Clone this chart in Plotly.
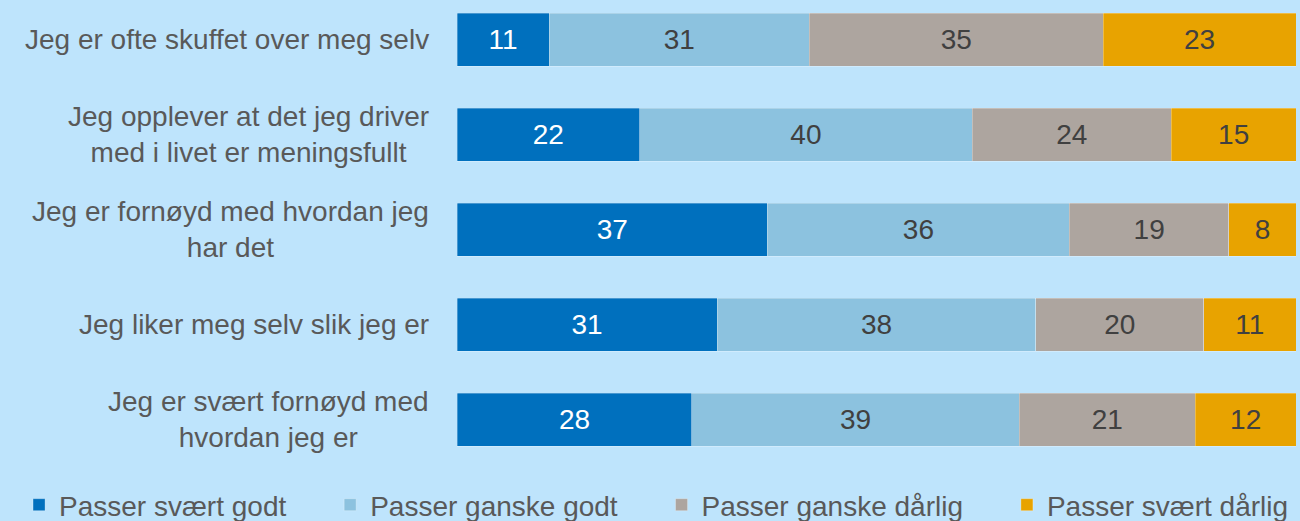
import plotly.graph_objects as go

# Survey statements (top to bottom) and answer shares per response option
categories = [
    "Jeg er ofte skuffet over meg selv",
    "Jeg opplever at det jeg driver<br>med i livet er meningsfullt",
    "Jeg er fornøyd med hvordan jeg<br>har det",
    "Jeg liker meg selv slik jeg er",
    "Jeg er svært fornøyd med<br>hvordan jeg er",
]
series_names = [
    "Passer svært godt",
    "Passer ganske godt",
    "Passer ganske dårlig",
    "Passer svært dårlig",
]
svaert_godt = [11, 22, 37, 31, 28]
ganske_godt = [31, 40, 36, 38, 39]
ganske_darlig = [35, 24, 19, 20, 21]
svaert_darlig = [23, 15, 8, 11, 12]

series_values = [svaert_godt, ganske_godt, ganske_darlig, svaert_darlig]
colors = ["#0070BE", "#8CC2DF", "#ADA59F", "#E8A300"]
label_colors = ["#FFFFFF", "#404040", "#404040", "#404040"]

bg = "#BEE4FC"
text_grey = "#595959"
font_family = "Liberation Sans, Arial, sans-serif"

# extra horizontal room after each legend entry except the last
legend_pad = "\u00a0" * 5

fig = go.Figure()
for i, (name, vals, col, lcol) in enumerate(zip(series_names, series_values, colors, label_colors)):
    shown_name = name + (legend_pad if i < len(series_names) - 1 else "")
    fig.add_trace(
        go.Bar(
            name=shown_name,
            y=categories,
            x=vals,
            orientation="h",
            marker=dict(color=col, line=dict(color="rgba(255,255,255,0.35)", width=0.8)),
            text=vals,
            texttemplate="%{text}",
            textposition="inside",
            insidetextanchor="middle",
            textangle=0,
            textfont=dict(color=lcol, size=28, family=font_family),
            hoverinfo="skip",
        )
    )

# Category labels as centred multi-line annotations left of the bars
for cat in categories:
    fig.add_annotation(
        x=0, xref="paper", y=cat, yref="y",
        text=cat, showarrow=False,
        xanchor="right", xshift=-26, align="center",
        font=dict(size=28, color=text_grey, family=font_family),
    )

fig.update_layout(
    width=1300,
    height=521,
    barmode="stack",
    barnorm="percent",
    bargap=0.442,
    paper_bgcolor=bg,
    plot_bgcolor=bg,
    margin=dict(l=457, r=4, t=0, b=61, autoexpand=False),
    font=dict(family=font_family, color=text_grey),
    xaxis=dict(range=[0, 100], visible=False, fixedrange=True),
    yaxis=dict(
        categoryorder="array",
        categoryarray=categories,
        range=[4.426, -0.416],
        showticklabels=False,
        showgrid=False,
        zeroline=False,
        fixedrange=True,
    ),
    legend=dict(
        orientation="h",
        xref="paper",
        x=-0.522,
        xanchor="left",
        yref="paper",
        y=-45 / 460,
        yanchor="middle",
        font=dict(size=28, color=text_grey, family=font_family),
        traceorder="normal",
        bgcolor="rgba(0,0,0,0)",
    ),
    showlegend=True,
)

fig.write_html("out.html")
